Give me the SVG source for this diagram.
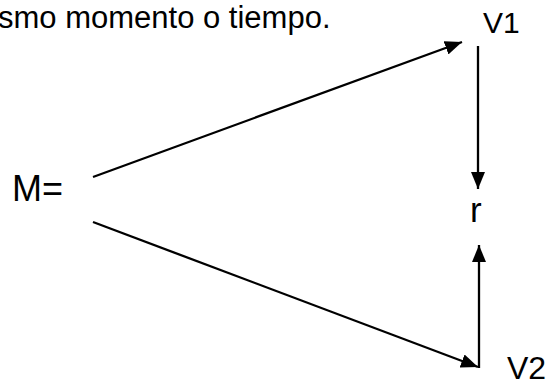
<svg xmlns="http://www.w3.org/2000/svg" width="555" height="383" viewBox="0 0 555 383">
<style>
.t{font-family:"Liberation Sans",Arial,sans-serif;fill:#000}
.c{stroke:#000;stroke-width:2.3;fill:none}
</style>
<defs>
<marker id="a" viewBox="0 0 17 14" refX="17" refY="7" markerWidth="17" markerHeight="14" orient="auto" markerUnits="userSpaceOnUse">
<path d="M0,0 L17,7 L0,14 z" fill="#000"/>
</marker>
</defs>
<rect width="555" height="383" fill="#fff"/>
<text class="t" x="-2" y="28" font-size="31">smo momento o tiempo.</text>
<g id="M"><text class="t" x="12" y="201" font-size="36">M=</text></g>
<g id="V1"><text class="t" x="483" y="33" font-size="30">V1</text></g>
<g id="r"><text class="t" x="470" y="222" font-size="35">r</text></g>
<g id="V2"><text class="t" x="507" y="379" font-size="32">V2</text></g>
<g id="connectors">
<line class="c" x1="93" y1="177" x2="462" y2="42" marker-end="url(#a)"/>
<line class="c" x1="478" y1="46" x2="478" y2="189" marker-end="url(#a)"/>
<line class="c" x1="93" y1="222" x2="478" y2="367" marker-end="url(#a)"/>
<line class="c" x1="479" y1="368" x2="479" y2="245" marker-end="url(#a)"/>
</g>
</svg>
